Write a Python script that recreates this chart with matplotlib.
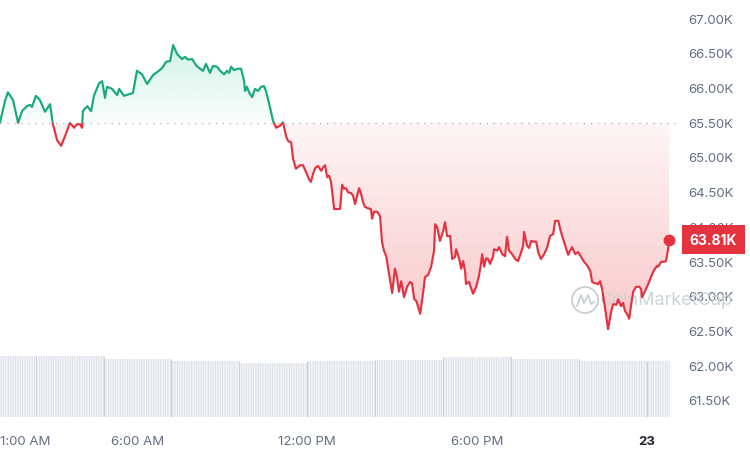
import numpy as np
import matplotlib.pyplot as plt
from matplotlib.path import Path
from matplotlib.patches import Rectangle, Ellipse
from matplotlib.colors import to_rgb

plt.rcParams['font.family'] = ['Inter', 'DejaVu Sans']
plt.rcParams['hatch.linewidth'] = 0.5

# hours since midnight of the 22nd, BTC price in thousands of USD
times = [1.14, 1.32, 1.42, 1.60, 1.78, 1.92, 2.09, 2.20, 2.27, 2.41, 2.55, 2.73, 2.91, 3.01, 3.16, 3.30,
         3.44, 3.61, 3.76, 3.86, 3.97, 4.04, 4.07, 4.22, 4.36, 4.46, 4.64, 4.75, 4.85, 4.92, 5.10, 5.28,
         5.35, 5.52, 5.84, 5.98, 6.16, 6.34, 6.55, 6.69, 6.87, 7.01, 7.15, 7.26, 7.40, 7.57, 7.68, 7.79,
         7.93, 8.07, 8.21, 8.32, 8.42, 8.56, 8.67, 8.81, 8.92, 9.06, 9.16, 9.24, 9.31, 9.41, 9.55, 9.66,
         9.77, 9.80, 9.87, 9.94, 10.05, 10.15, 10.26, 10.37, 10.47, 10.54, 10.68, 10.79, 10.90, 11.04,
         11.14, 11.25, 11.32, 11.43, 11.50, 11.60, 11.75, 11.85, 11.96, 12.06, 12.13, 12.20, 12.28, 12.38,
         12.49, 12.56, 12.63, 12.70, 12.77, 12.84, 12.95, 13.16, 13.23, 13.30, 13.37, 13.44, 13.55, 13.62,
         13.69, 13.76, 13.83, 13.90, 13.97, 14.04, 14.15, 14.25, 14.29, 14.36, 14.47, 14.57, 14.64, 14.71,
         14.79, 14.86, 14.93, 15.00, 15.10, 15.17, 15.24, 15.32, 15.42, 15.53, 15.63, 15.70, 15.78, 15.85,
         15.92, 15.99, 16.09, 16.16, 16.27, 16.38, 16.48, 16.52, 16.59, 16.69, 16.80, 16.87, 16.94, 17.05,
         17.12, 17.22, 17.26, 17.37, 17.44, 17.51, 17.58, 17.61, 17.72, 17.79, 17.86, 17.97, 18.07, 18.14,
         18.18, 18.25, 18.32, 18.39, 18.46, 18.57, 18.60, 18.71, 18.78, 18.89, 18.99, 19.06, 19.13, 19.24,
         19.35, 19.45, 19.56, 19.63, 19.66, 19.77, 19.84, 19.91, 19.98, 20.09, 20.16, 20.26, 20.37, 20.48,
         20.58, 20.69, 20.76, 20.87, 20.94, 21.01, 21.11, 21.22, 21.29, 21.36, 21.47, 21.57, 21.68, 21.78,
         21.89, 22.00, 22.07, 22.17, 22.28, 22.35, 22.42, 22.53, 22.63, 22.74, 22.81, 22.92, 22.99, 23.09,
         23.16, 23.23, 23.30, 23.38, 23.45, 23.52, 23.62, 23.73, 23.80, 23.83, 23.94, 24.05, 24.15, 24.22,
         24.29, 24.36, 24.40, 24.51, 24.61, 24.68, 24.75, 24.79]
prices = [65.50, 65.81, 65.93, 65.82, 65.49, 65.66, 65.73, 65.75, 65.72, 65.88, 65.82, 65.65, 65.76, 65.47,
          65.24, 65.16, 65.30, 65.49, 65.42, 65.47, 65.47, 65.42, 65.66, 65.73, 65.66, 65.88, 66.06, 66.09,
          65.85, 66.01, 65.98, 65.89, 65.98, 65.88, 65.92, 66.24, 66.19, 66.05, 66.18, 66.22, 66.28, 66.37,
          66.38, 66.61, 66.48, 66.41, 66.44, 66.40, 66.41, 66.32, 66.27, 66.24, 66.34, 66.21, 66.31, 66.30,
          66.24, 66.19, 66.24, 66.21, 66.30, 66.25, 66.27, 66.27, 66.09, 65.95, 66.01, 65.93, 65.86, 65.98,
          65.95, 66.01, 66.02, 65.95, 65.72, 65.52, 65.42, 65.45, 65.50, 65.30, 65.23, 65.21, 64.97, 64.83,
          64.88, 64.88, 64.78, 64.68, 64.64, 64.75, 64.84, 64.87, 64.80, 64.85, 64.88, 64.71, 64.73, 64.64,
          64.25, 64.25, 64.60, 64.54, 64.55, 64.49, 64.48, 64.44, 64.32, 64.44, 64.55, 64.47, 64.35, 64.28,
          64.26, 64.25, 64.11, 64.21, 64.21, 64.15, 63.78, 63.65, 63.57, 63.39, 63.20, 63.04, 63.39, 63.27,
          63.06, 63.21, 62.98, 63.13, 63.20, 63.18, 62.95, 62.93, 62.84, 62.74, 63.03, 63.27, 63.30, 63.42,
          63.65, 64.03, 63.99, 63.79, 63.93, 64.06, 63.86, 63.86, 63.53, 63.56, 63.67, 63.53, 63.39, 63.50,
          63.34, 63.17, 63.20, 63.11, 63.03, 63.13, 63.29, 63.46, 63.60, 63.42, 63.54, 63.53, 63.46, 63.57,
          63.67, 63.65, 63.70, 63.60, 63.57, 63.85, 63.65, 63.60, 63.53, 63.50, 63.63, 63.72, 63.92, 63.72,
          63.69, 63.79, 63.78, 63.78, 63.63, 63.53, 63.60, 63.70, 63.86, 63.89, 64.08, 64.08, 63.96, 63.86,
          63.73, 63.59, 63.65, 63.70, 63.60, 63.63, 63.56, 63.49, 63.44, 63.36, 63.20, 63.18, 63.17, 63.21,
          63.10, 62.81, 62.52, 62.77, 62.88, 62.87, 62.95, 62.85, 62.90, 62.78, 62.74, 62.67, 62.88, 63.06,
          63.13, 63.13, 63.10, 62.98, 63.07, 63.17, 63.27, 63.34, 63.39, 63.43, 63.42, 63.49, 63.49, 63.50,
          63.67, 63.81]

open_price = 65.49  # price 24h ago (dotted line)

# volume, one value per 2.4 h block (relative units)
vol_edges = [0.0, 2.4, 4.8, 7.2, 9.6, 12.0, 14.4, 16.8, 19.2, 21.6, 24.0, 24.82]
vol_values = [1.00, 1.00, 0.95, 0.92, 0.89, 0.92, 0.93, 0.98, 0.95, 0.92, 0.92]

price_ticks = [61.5, 62.0, 62.5, 63.0, 63.5, 64.0, 64.5, 65.0, 65.5, 66.0, 66.5, 67.0]
time_ticks = [1, 6, 12, 18, 24]
time_labels = ['1:00 AM', '6:00 AM', '12:00 PM', '6:00 PM', '23']

green = '#17a97b'
red = '#e5323f'
grey = '#616e85'

t = np.array(times)
p = np.array(prices)
xlim = (t[0], 24.82)
ylim = (61.255, 67.274)

fig = plt.figure(figsize=(7.5, 4.52), dpi=100)
pos = [0, 34 / 452, 670 / 750, 418 / 452]

# volume in the background
axv = fig.add_axes(pos)
left = vol_edges[:-1]
widths = np.diff(vol_edges)
axv.bar(left, vol_values, width=widths, align='edge', color='#f2f4f7',
        hatch='|' * 7, edgecolor='#d6dae0', lw=0)
edge_h = [max(a, b) for a, b in zip(vol_values[:-1], vol_values[1:])]
axv.vlines(vol_edges[1:-1], 0, edge_h, color='#cdd2d9', lw=0.7)
axv.set_xlim(xlim)
axv.set_ylim(0, 418 / 61)
axv.axis('off')

ax = fig.add_axes(pos, facecolor='none')

# gradient fills, clipped to the area between line and baseline
up = ax.fill_between(t, p, open_price, where=p >= open_price, interpolate=True, lw=0, alpha=0)
dn = ax.fill_between(t, p, open_price, where=p <= open_price, interpolate=True, lw=0, alpha=0)


def shade(coll, color, y_lo, y_hi, a_lo, a_hi):
    clip = Path.make_compound_path(*coll.get_paths())
    grad = np.zeros((256, 1, 4))
    grad[:, 0, :3] = to_rgb(color)
    grad[:, 0, 3] = np.linspace(a_lo, a_hi, 256)
    im = ax.imshow(grad, extent=[t[0], t[-1], y_lo, y_hi], origin='lower',
                   aspect='auto', zorder=1, interpolation='bilinear')
    im.set_clip_path(clip, transform=ax.transData)


shade(up, '#16c784', open_price, p.max(), 0.02, 0.20)
shade(dn, '#ea3943', p.min(), open_price, 0.28, 0.05)

# price line: green above the open price, red below
for color, y0, y1 in [(green, open_price, 80), (red, 50, open_price)]:
    ln, = ax.plot(t, p, color=color, lw=1.55, zorder=4, solid_joinstyle='round')
    ln.set_clip_path(Rectangle((t[0] - 1, y0), 30, y1 - y0, transform=ax.transData))

ax.plot([0, 1.015], [open_price, open_price], transform=ax.get_yaxis_transform(),
        color='#b4bac4', lw=1, ls=(0, (1, 4)), clip_on=False, zorder=2)

ax.plot(t[-1], p[-1], 'o', color=red, ms=7.5, zorder=5, clip_on=False)

# watermark
fx, fy = 585 / 750, 1 - 301 / 452
ax.add_patch(Ellipse((fx, fy), 26 / 750, 26 / 452, transform=fig.transFigure,
                     fill=False, ec='#c9ced6', lw=1.3, zorder=2))
wave_x = [-8, -4, -1, 3, 6, 9]
wave_y = [6, -5, 3, -5, 4, 2]
ax.plot([fx + dx / 750 for dx in wave_x], [fy - dy / 452 for dy in wave_y],
        transform=fig.transFigure, color='#c9ced6', lw=1.3, zorder=2)
ax.text(600 / 750, fy, 'CoinMarketCap', transform=fig.transFigure, color='#cdd2d9',
        fontsize=13, va='center', ha='left', zorder=2)

ax.set_xlim(xlim)
ax.set_ylim(ylim)

ax.set_yticks(price_ticks, [f'{v:.2f}K' for v in price_ticks])
ax.set_xticks([max(v, t[0]) for v in time_ticks], time_labels)
ax.tick_params(axis='y', left=False, right=False, labelleft=False, labelright=True,
               pad=9.4, labelsize=9.5, labelcolor=grey)
ax.tick_params(axis='x', bottom=False, pad=9.4, labelsize=9.5, labelcolor=grey)
xl = ax.get_xticklabels()
xl[0].set_ha('left')
xl[-1].set_fontweight('bold')
xl[-1].set_color('#222531')
for s in ax.spines.values():
    s.set_visible(False)

ax.annotate(f'{p[-1]:.2f}K', xy=(1, p[-1]), xycoords=('axes fraction', 'data'),
            xytext=(14.2, 0), textcoords='offset points', ha='left', va='center',
            color='white', fontweight='bold', fontsize=10, annotation_clip=False, zorder=10,
            bbox=dict(boxstyle='square,pad=0.55', fc=red, ec='none'))

fig.savefig('out.png', dpi=100)
